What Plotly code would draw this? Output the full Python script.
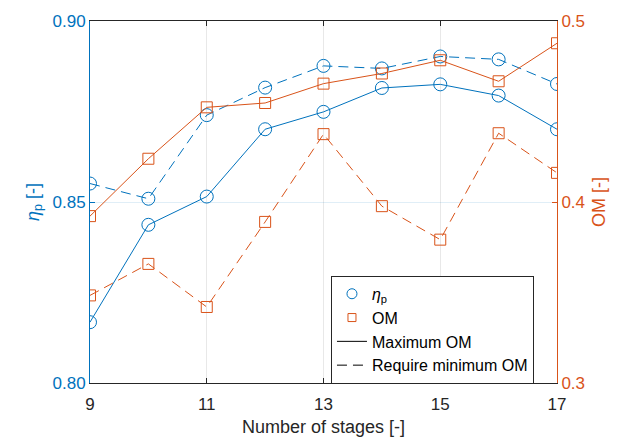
import plotly.graph_objects as go

stages = [9, 10, 11, 12, 13, 14, 15, 16, 17]
eta_max_om = [0.8168, 0.8437, 0.8515, 0.8701, 0.8749, 0.8815, 0.8825, 0.8794, 0.8701]
eta_min_om = [0.8551, 0.8509, 0.8740, 0.8816, 0.8876, 0.8869, 0.8902, 0.8894, 0.8826]
om_max = [0.3922, 0.4239, 0.4523, 0.4547, 0.4654, 0.4710, 0.4783, 0.4667, 0.4877]
om_min = [0.3484, 0.3658, 0.3420, 0.3890, 0.4375, 0.3977, 0.3792, 0.4380, 0.4161]

BLUE = "#0072BD"
ORANGE = "#D95319"
DASH = "10px,6px"
FONT = "Liberation Sans, Arial, sans-serif"

fig = go.Figure()
circ = dict(symbol="circle-open", size=13, color=BLUE, line=dict(width=1, color=BLUE))
sq = dict(symbol="square-open", size=11, color=ORANGE, line=dict(width=1, color=ORANGE))

fig.add_trace(go.Scatter(x=stages, y=eta_max_om, mode="lines+markers", marker=circ,
                         line=dict(color=BLUE, width=1), showlegend=False, yaxis="y"))
fig.add_trace(go.Scatter(x=stages, y=eta_min_om, mode="lines+markers", marker=circ,
                         line=dict(color=BLUE, width=1, dash=DASH), showlegend=False, yaxis="y"))
fig.add_trace(go.Scatter(x=stages, y=om_max, mode="lines+markers", marker=sq,
                         line=dict(color=ORANGE, width=1), showlegend=False, yaxis="y2"))
fig.add_trace(go.Scatter(x=stages, y=om_min, mode="lines+markers", marker=sq,
                         line=dict(color=ORANGE, width=1, dash=DASH), showlegend=False, yaxis="y2"))

# legend entries
fig.add_trace(go.Scatter(x=[None], y=[None], mode="markers", marker=dict(circ, size=10),
                         name="<i>η</i><sub>p</sub>"))
fig.add_trace(go.Scatter(x=[None], y=[None], mode="markers", marker=dict(sq, size=8), name="OM"))
fig.add_trace(go.Scatter(x=[None], y=[None], mode="lines", line=dict(color="black", width=1),
                         name="Maximum OM"))
fig.add_trace(go.Scatter(x=[None], y=[None], mode="lines", line=dict(color="black", width=1, dash=DASH),
                         name="Require minimum OM"))

fig.update_layout(
    width=630, height=445,
    margin=dict(l=90, r=73, t=15, b=62),
    paper_bgcolor="white", plot_bgcolor="white",
    font=dict(family=FONT, size=17, color="#262626"),
    xaxis=dict(range=[9, 17], tickvals=[9, 11, 13, 15, 17], showgrid=True,
               gridcolor="#e8e8e8", gridwidth=1, zeroline=False,
               showline=True, linecolor="#262626", linewidth=1, mirror="ticks",
               ticks="inside", ticklen=5, tickcolor="#262626", ticklabelstandoff=6,
               title=dict(text="Number of stages [-]", font=dict(size=18, color="#262626"), standoff=6),
               tickfont=dict(size=17, color="#262626")),
    yaxis=dict(range=[0.8, 0.9], tickvals=[0.8, 0.85, 0.9], tickformat=".2f",
               showgrid=True, gridcolor="rgba(0,114,189,0.12)", zeroline=False,
               showline=True, linecolor=BLUE, linewidth=1, ticks="inside", ticklen=5,
               tickcolor=BLUE, tickfont=dict(size=17, color=BLUE),
               title=dict(text="<i>η</i><sub>p</sub> [-]", font=dict(size=18, color=BLUE), standoff=8)),
    yaxis2=dict(range=[0.3, 0.5], tickvals=[0.3, 0.4, 0.5], tickformat=".1f",
                overlaying="y", side="right", showgrid=False, zeroline=False,
                showline=True, linecolor=ORANGE, linewidth=1, ticks="inside", ticklen=5,
                tickcolor=ORANGE, tickfont=dict(size=17, color=ORANGE),
                title=dict(text="OM [-]", font=dict(size=18, color=ORANGE), standoff=8)),
    legend=dict(x=0.516, y=0.296, xanchor="left", yanchor="top",
                bgcolor="white", bordercolor="#262626", borderwidth=1,
                font=dict(size=16, color="black"), tracegroupgap=0),
)

fig.write_html("out.html")
